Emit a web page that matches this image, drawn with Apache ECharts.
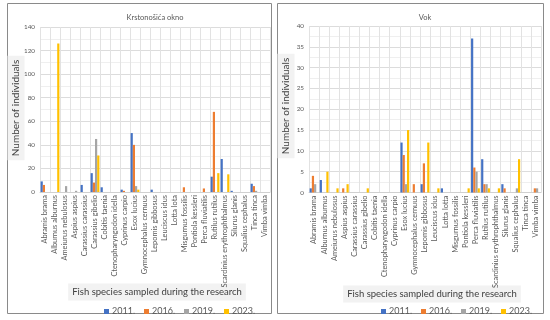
<!DOCTYPE html>
<html><head><meta charset="utf-8">
<script src="https://cdn.jsdelivr.net/npm/echarts@6/dist/echarts.min.js"></script>
<style>html,body{margin:0;padding:0;background:#fff}#c{width:550px;height:320px}</style>
</head><body><div id="c"></div>
<script>
const speciesLeft = ['Abramis brama','Alburnus alburnus','Ameiurus nebulosus','Aspius aspius','Carassius carassius','Carassius gibelio','Cobitis taenia','Ctenopharyngodon idella','Cyprinus carpio','Esox lucius','Gymnocephalus cernuus','Lepomis gibbosus','Leuciscus idus','Lotta lota','Misgurnus fossilis','Pontiola kessleri','Perca fluviatilis','Rutilus rutilus','Scardinius erythrophthalmus','Silurus glanis','Squalius cephalus','Tinca tinca','Vimba vimba'];
const speciesRight = ['Abramis brama','Alburnus alburnus','Ameiurus nebulosus','Aspius aspius','Carassius carassius','Carassius gibelio','Cobitis taenia','Ctenopharyngodon idella','Cyprinus carpio','Esox lucius','Gymnocephalus cernuus','Lepomis gibbosus','Leuciscus idus','Lotta lotta','Misgurnus fossilis','Pontiola kessleri','Perca fluviatilis','Rutilus rutilus','Scardinius erythrophthalmus','Silurus glanis','Squalius cephalus','Tinca tinca','Vimba vimba'];
const years = ['2011.','2016.','2019.','2023.'];
const left2011 = [9,0,0,0,6,16,4,0,2,50,0,2,0,0,0,0,0,13,28,1,0,7,0];
const left2016 = [6,0,0,0,0,8,0,0,1,40,0,0,0,0,4,0,3,68,0,0,0,5,0];
const left2019 = [0,0,5,1,0,45,0,0,0,5,0,0,0,0,0,0,0,0,0,0,0,1,0];
const left2023 = [0,126,0,0,0,31,0,0,0,2,0,0,0,0,0,0,0,16,15,0,0,0,0];
const right2011 = [1,3,0,0,0,0,0,0,0,12,0,2,0,1,0,0,37,8,0,2,0,0,0];
const right2016 = [4,0,0,1,0,0,0,0,0,9,2,7,0,0,0,0,6,2,0,1,0,0,1];
const right2019 = [2,0,0,0,0,0,0,0,0,2,0,0,0,0,0,0,5,2,0,0,1,0,1];
const right2023 = [0,5,1,2,0,1,0,0,0,15,0,12,1,0,0,1,1,1,1,0,8,0,0];
const titleLeft = 'Krstonošića okno';
const titleRight = 'Vok';
const yTitle = 'Number of individuals';
const xTitle = 'Fish species sampled during the research';

const colors = ['#4472C4','#ED7D31','#A5A5A5','#FFC000'];
const FONT = 'Lato, "Liberation Sans", sans-serif';
const chart = echarts.init(document.getElementById('c'));

function xAx(data, gi){
  return {type:'category', gridIndex:gi, data:data,
    axisLine:{show:true, lineStyle:{color:'#d0d0d0'}}, axisTick:{show:false},
    splitLine:{show:true, interval:0, lineStyle:{color:'#e2e2e2', width:1}},
    axisLabel:{interval:0, rotate:90, fontSize:7.4, color:'#595959', fontFamily:FONT, margin:3}};
}
function yAx(max, step, gi){
  return {type:'value', gridIndex:gi, min:0, max:max, interval:step,
    axisLine:{show:false}, axisTick:{show:false},
    splitLine:{lineStyle:{color:'#dcdcdc'}},
    minorTick:{show:false, splitNumber:2},
    minorSplitLine:{show:true, lineStyle:{color:'#efefef'}},
    axisLabel:{fontSize:6.3, color:'#595959', fontFamily:FONT, margin:5}};
}
const leftVals = [left2011,left2016,left2019,left2023];
const rightVals = [right2011,right2016,right2019,right2023];
const series = [];
years.forEach((y,i)=>{
  series.push({name:y, type:'bar', xAxisIndex:0, yAxisIndex:0, data:leftVals[i], barWidth:2.2, barGap:'0%', itemStyle:{color:colors[i]}});
});
years.forEach((y,i)=>{
  series.push({name:y, type:'bar', xAxisIndex:1, yAxisIndex:1, data:rightVals[i], barWidth:2.2, barGap:'0%', itemStyle:{color:colors[i]}});
});
const legendBase = {data:years, itemWidth:5, itemHeight:5, itemGap:9, icon:'rect',
  textStyle:{fontSize:9, color:'#595959', fontFamily:FONT, padding:[0,0,0,-2]}, selectedMode:false};

chart.setOption({
  animation:false,
  backgroundColor:'#fff',
  color:colors,
  title:[
    {text:titleLeft, left:150, top:9, textAlign:'center', textStyle:{fontSize:7.5, fontWeight:'normal', color:'#595959', fontFamily:FONT}},
    {text:titleRight, left:420, top:9, textAlign:'center', textStyle:{fontSize:7.5, fontWeight:'normal', color:'#595959', fontFamily:FONT}}
  ],
  grid:[
    {left:40, top:27, width:230, height:165},
    {left:309, top:26, width:232, height:166.5}
  ],
  xAxis:[xAx(speciesLeft,0), xAx(speciesRight,1)],
  yAxis:[yAx(140,20,0), yAx(40,5,1)],
  legend:[
    Object.assign({left:99, top:302}, legendBase),
    Object.assign({left:376, top:302}, legendBase)
  ],
  graphic:[
    {type:'rect', shape:{x:7.5,y:3.5,width:264,height:310}, style:{fill:'none', stroke:'#8a8a8a', lineWidth:1}, silent:true, z:-1},
    {type:'rect', shape:{x:277.5,y:3.5,width:266,height:310}, style:{fill:'none', stroke:'#8a8a8a', lineWidth:1}, silent:true, z:-1},
    {type:'text', x:16, y:108, rotation:Math.PI/2, style:{text:yTitle, fontSize:10, fontFamily:FONT, fill:'#404040', align:'center', verticalAlign:'middle', backgroundColor:'#f2f2f2', padding:[4,4,3,4]}},
    {type:'text', x:286, y:106, rotation:Math.PI/2, style:{text:yTitle, fontSize:10, fontFamily:FONT, fill:'#404040', align:'center', verticalAlign:'middle', backgroundColor:'#f2f2f2', padding:[4,4,3,4]}},
    {type:'text', x:157, y:292, style:{text:xTitle, fontSize:9.5, fontFamily:FONT, fill:'#404040', align:'center', verticalAlign:'middle', backgroundColor:'#f2f2f2', padding:[4,4,3,4]}},
    {type:'text', x:432, y:294, style:{text:xTitle, fontSize:9.5, fontFamily:FONT, fill:'#404040', align:'center', verticalAlign:'middle', backgroundColor:'#f2f2f2', padding:[4,4,3,4]}}
  ],
  series:series
});
</script></body></html>
